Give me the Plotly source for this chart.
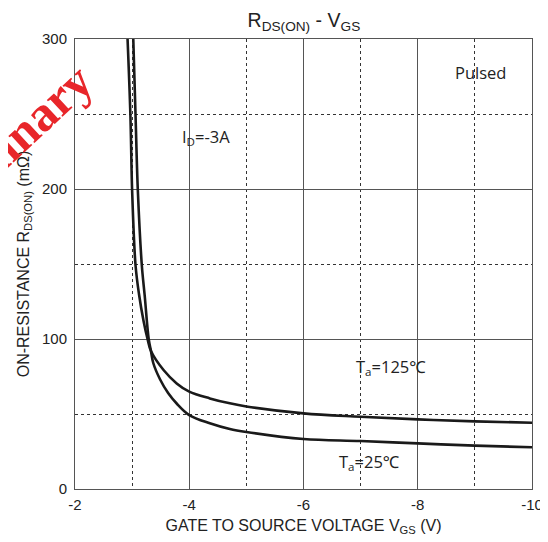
import plotly.graph_objects as go

# ---- data ----
vgs_125 = [-2.92, -2.97, -3.00, -3.06, -3.12, -3.20, -3.27, -3.33, -3.55, -3.78, -4.0, -4.36, -4.71, -5.0, -6.0, -7.0, -8.0, -9.0, -10.0]
rds_125 = [300, 249, 199, 149, 130, 112, 100, 92, 79.3, 70.4, 64.9, 60.4, 57.1, 55, 50.4, 48.2, 46.4, 45.1, 44.2]

vgs_25 = [-3.02, -3.06, -3.10, -3.17, -3.22, -3.29, -3.33, -3.37, -3.49, -3.63, -3.78, -4.0, -4.36, -4.71, -5.0, -6.0, -7.0, -8.0, -9.0, -10.0]
rds_25 = [300, 249, 199, 149, 129, 100, 92, 84, 73, 64, 57, 49.3, 43.8, 40, 38, 33.3, 32, 30.4, 28.9, 27.8]

x_tickvals = [-2, -4, -6, -8, -10]
x_ticktext = ["-2", "-4", "-6", "-8", "-10"]
y_tickvals = [0, 100, 200, 300]
y_ticktext = ["0", "100", "200", "300"]

line_col = "#1a1a1a"
grid_col = "#555555"
minor_col = "#333333"
sans = "Liberation Sans, Arial, sans-serif"
ann_font = "Open Sans, Noto Sans, sans-serif"

fig = go.Figure()
fig.add_trace(go.Scatter(x=vgs_125, y=rds_125, mode="lines",
                         line=dict(color=line_col, width=2.6, shape="spline", smoothing=1.0),
                         showlegend=False, hoverinfo="skip"))
fig.add_trace(go.Scatter(x=vgs_25, y=rds_25, mode="lines",
                         line=dict(color=line_col, width=2.6, shape="spline", smoothing=1.0),
                         showlegend=False, hoverinfo="skip"))

fig.update_layout(
    width=540, height=534,
    margin=dict(l=67, r=16, t=31, b=53),
    paper_bgcolor="white", plot_bgcolor="white",
    font=dict(family=sans, color="#222222", size=15),
    title=dict(text="R<sub>DS(ON)</sub> - V<sub>GS</sub>", x=0.548, xanchor="center",
               y=0.9775, yref="container", yanchor="middle",
               font=dict(family=sans, size=19.5, color="#222222")),
)

fig.update_xaxes(
    range=[-2, -10], tickvals=x_tickvals, ticktext=x_ticktext,
    showgrid=True, gridcolor=grid_col, gridwidth=1, automargin=False,
    minor=dict(dtick=1, tick0=0, showgrid=True, gridcolor=minor_col, griddash="dot", gridwidth=1),
    showline=True, linecolor=grid_col, linewidth=1, mirror=True,
    ticks="", zeroline=False, ticklabelstandoff=2,
    tickfont=dict(family=sans, size=15, color="#222222"),
    title=dict(text="GATE TO SOURCE VOLTAGE V<sub>GS</sub> (V)", standoff=7,
               font=dict(family=sans, size=16, color="#222222")),
)
fig.update_yaxes(
    range=[0, 300], tickvals=y_tickvals, ticktext=y_ticktext,
    showgrid=True, gridcolor=grid_col, gridwidth=1, automargin=False,
    minor=dict(dtick=50, tick0=0, showgrid=True, gridcolor=minor_col, griddash="dot", gridwidth=1),
    showline=True, linecolor=grid_col, linewidth=1, mirror=True,
    ticks="", zeroline=False, ticklabelstandoff=4,
    tickfont=dict(family=sans, size=15, color="#222222"),
    title=dict(text="ON-RESISTANCE R<sub>DS(ON)</sub> (mΩ)", standoff=8,
               font=dict(family=sans, size=16, color="#222222")),
)

anns = [
    dict(text="Pulsed", x=-9.1, y=278),
    dict(text="I<sub>D</sub>=-3A", x=-4.3, y=235),
    dict(text="T<sub>a</sub>=125℃", x=-7.53, y=81.5),
    dict(text="T<sub>a</sub>=25℃", x=-7.15, y=18.2),
]
for a in anns:
    fig.add_annotation(text=a["text"], x=a["x"], y=a["y"], xref="x", yref="y",
                       showarrow=False, xanchor="center", yanchor="middle",
                       font=dict(family=ann_font, size=16.5, color="#222222"))

# red watermark (partly outside the figure)
fig.add_annotation(text="<b>Preliminary</b>", xref="paper", yref="paper",
                   x=-0.185, y=0.728, xanchor="center", yanchor="middle",
                   textangle=-43, showarrow=False,
                   font=dict(family="Liberation Serif, Times New Roman, serif", size=50, color="#e8262a"))

fig.write_html("out.html")
